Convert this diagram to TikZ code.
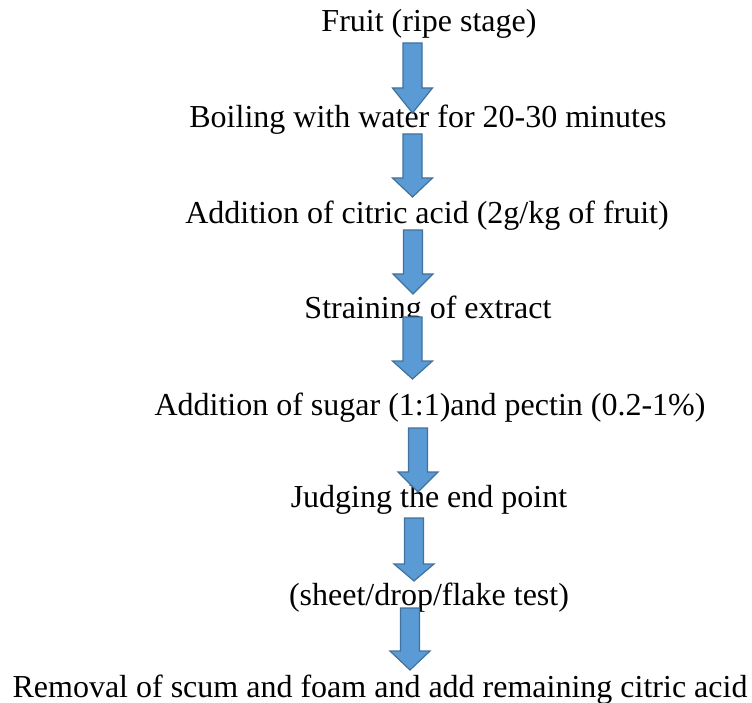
\documentclass[tikz,border=0pt]{standalone}
\usepackage{fontspec}
\setmainfont{Liberation Serif}
\definecolor{arrfill}{HTML}{5B9BD5}
\definecolor{arrline}{HTML}{41719C}
\begin{document}
\begin{tikzpicture}[x=1pt,y=-1pt,
  steptext/.style={anchor=base,inner sep=0pt,font=\fontsize{32}{38}\selectfont},
  blockarrow/.style={fill=arrfill,draw=arrline,line width=1.2pt,line join=miter}]
\useasboundingbox (0,0) rectangle (752,703);
% args: center x, top y, head base y, tip y
\newcommand\downarrowblock[4]{%
  \draw[blockarrow] (#1-9.5,#2) -- (#1+9.5,#2) -- (#1+9.5,#3) -- (#1+20,#3) -- (#1,#4) -- (#1-20,#3) -- (#1-9.5,#3) -- cycle;}
\node[steptext] (t1) at (429,32) {Fruit (ripe stage)};
\node[steptext] (t2) at (428,128) {Boiling with water for 20-30 minutes};
\node[steptext] (t3) at (427,224) {Addition of citric acid (2g/kg of fruit)};
\node[steptext] (t4) at (428,318) {Straining of extract};
\node[steptext] (t5) at (430,415) {Addition of sugar (1:1)and pectin (0.2-1\%)};
\node[steptext] (t6) at (429,507) {Judging the end point};
\node[steptext] (t7) at (429,605) {(sheet/drop/flake test)};
\node[steptext] (t8) at (380,697) {Removal of scum and foam and add remaining citric acid};
\downarrowblock{412.5}{43}{88}{113}
\downarrowblock{412.5}{134}{178}{197}
\downarrowblock{413}{230}{274}{294}
\downarrowblock{412.5}{317}{361}{379}
\downarrowblock{418}{428}{472}{492}
\downarrowblock{414}{518}{564}{581}
\downarrowblock{410}{608}{651}{670}
\end{tikzpicture}
\end{document}
